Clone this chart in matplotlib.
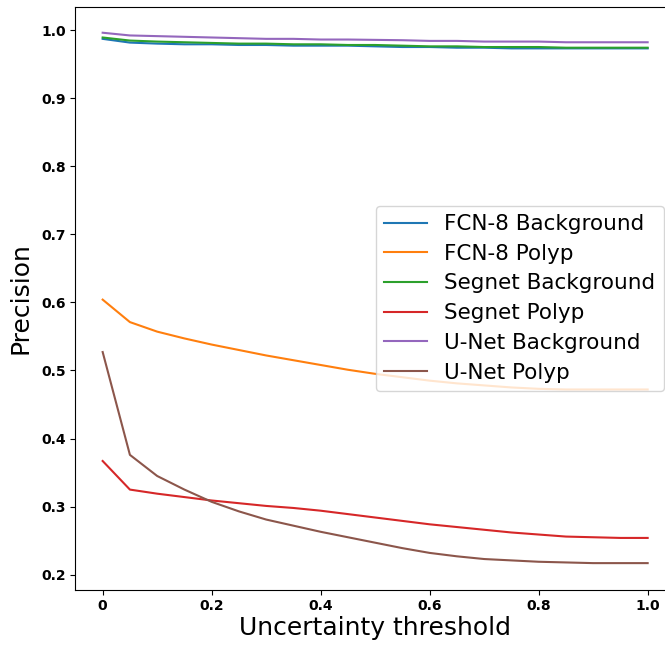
import numpy as np
import matplotlib
matplotlib.use('Agg')
import matplotlib.pyplot as plt

# Uncertainty thresholds (x axis)
thresholds = [0.0, 0.05, 0.1, 0.15, 0.2, 0.25, 0.3, 0.35, 0.4, 0.45, 0.5,
              0.55, 0.6, 0.65, 0.7, 0.75, 0.8, 0.85, 0.9, 0.95, 1.0]

# Precision per model / class
fcn8_background = [0.987, 0.9815, 0.980, 0.979, 0.979, 0.978, 0.978, 0.977, 0.977, 0.977, 0.976,
                   0.975, 0.975, 0.974, 0.974, 0.973, 0.973, 0.973, 0.973, 0.973, 0.973]
fcn8_polyp = [0.604, 0.571, 0.557, 0.547, 0.538, 0.530, 0.522, 0.515, 0.508, 0.501, 0.495,
              0.490, 0.485, 0.481, 0.478, 0.475, 0.473, 0.472, 0.472, 0.472, 0.472]
segnet_background = [0.989, 0.9845, 0.983, 0.982, 0.981, 0.980, 0.980, 0.979, 0.979, 0.978, 0.978,
                     0.977, 0.976, 0.976, 0.975, 0.975, 0.975, 0.974, 0.974, 0.974, 0.974]
segnet_polyp = [0.367, 0.325, 0.319, 0.314, 0.309, 0.305, 0.301, 0.298, 0.294, 0.289, 0.284,
                0.279, 0.274, 0.270, 0.266, 0.262, 0.259, 0.256, 0.255, 0.254, 0.254]
unet_background = [0.996, 0.992, 0.991, 0.990, 0.989, 0.988, 0.987, 0.987, 0.986, 0.986, 0.9855,
                   0.985, 0.984, 0.984, 0.983, 0.983, 0.983, 0.982, 0.982, 0.982, 0.982]
unet_polyp = [0.527, 0.376, 0.345, 0.325, 0.307, 0.293, 0.281, 0.272, 0.263, 0.255, 0.247,
              0.239, 0.232, 0.227, 0.223, 0.221, 0.219, 0.218, 0.217, 0.217, 0.217]

series_labels = ['FCN-8 Background', 'FCN-8 Polyp', 'Segnet Background',
                 'Segnet Polyp', 'U-Net Background', 'U-Net Polyp']

x_ticks = [0.0, 0.2, 0.4, 0.6, 0.8, 1.0]
x_tick_labels = ['0', '0.2', '0.4', '0.6', '0.8', '1.0']
y_ticks = [0.2, 0.3, 0.4, 0.5, 0.6, 0.7, 0.8, 0.9, 1.0]
y_tick_labels = ['0.2', '0.3', '0.4', '0.5', '0.6', '0.7', '0.8', '0.9', '1.0']


fig = plt.figure(figsize=(6.65, 6.47), dpi=100)
# axes run slightly past the right edge, like the cropped original
ax = fig.add_axes([0.1134, 0.0886, 0.9015, 0.9006])

all_series = [fcn8_background, fcn8_polyp, segnet_background,
              segnet_polyp, unet_background, unet_polyp]
for values, label in zip(all_series, series_labels):
    ax.plot(thresholds, values, label=label, linewidth=1.5)

ax.set_xlim(-0.05, 1.05)
ax.set_ylim(0.178, 1.0338)
ax.set_xticks(x_ticks)
ax.set_xticklabels(x_tick_labels, fontsize=10, fontweight='bold')
ax.set_yticks(y_ticks)
ax.set_yticklabels(y_tick_labels, fontsize=10, fontweight='bold')

ax.set_xlabel('Uncertainty threshold', fontsize=18, labelpad=2)
ax.set_ylabel('Precision', fontsize=18, labelpad=6)

ax.legend(loc='center right', fontsize=15.5, labelspacing=0.45)

fig.savefig('out.png', dpi=100)
